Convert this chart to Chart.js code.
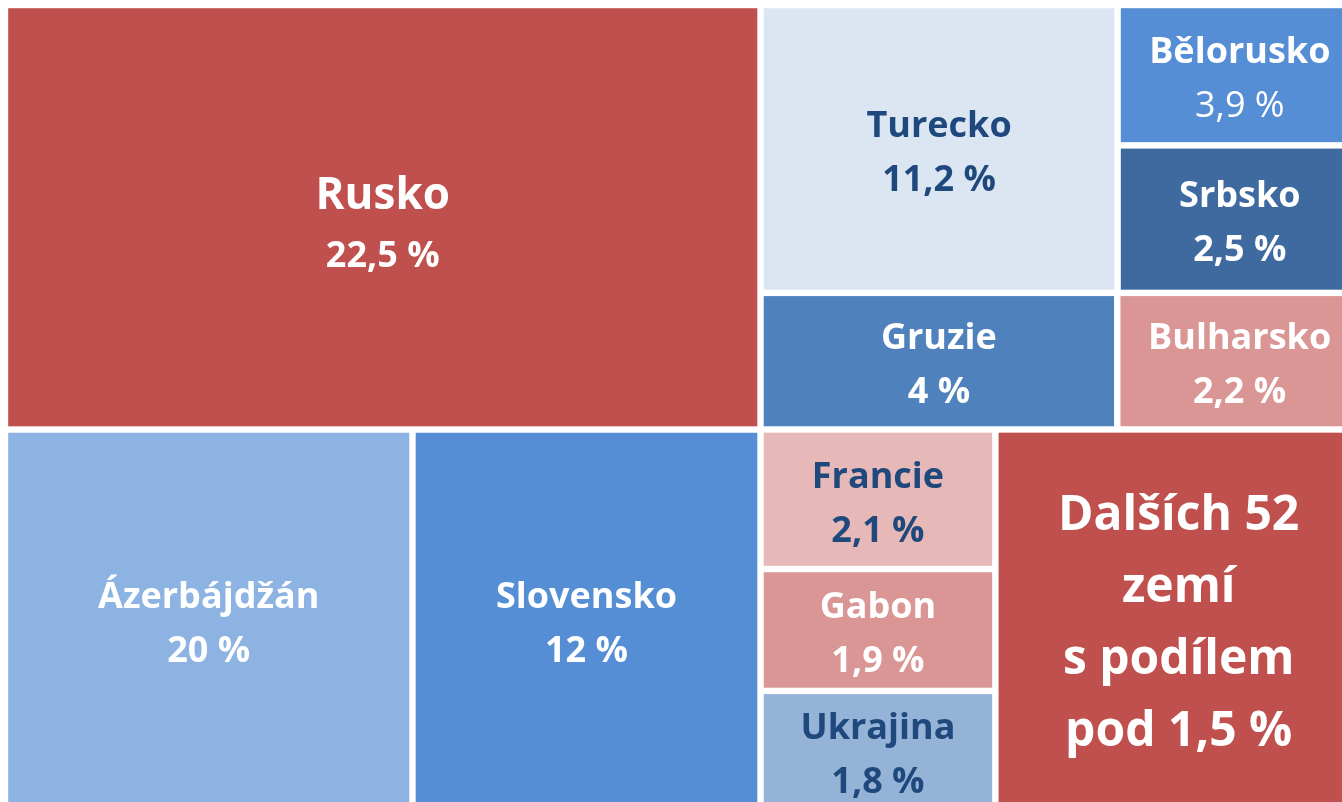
<!DOCTYPE html>
<html>
<head>
<meta charset="utf-8">
<script src="https://cdn.jsdelivr.net/npm/chart.js@4"></script>
<style>
    html, body { margin: 0; padding: 0; background: #ffffff; overflow: hidden; }
    #wrap { position: absolute; left: 0; top: 0; }
</style>
</head>
<body>
<div id="wrap"><canvas id="treemapGraph" width="1362" height="810"></canvas></div>
<script>
// countries and their share (labels), tile areas (% of the whole)
var countries = ["Rusko", "Ázerbájdžán", "Slovensko", "Turecko", "Gruzie", "Bělorusko", "Srbsko", "Bulharsko", "Francie", "Gabon", "Ukrajina", "Dalších 52 zemí"];
var shares = [22.5, 20, 12, 11.2, 4, 3.9, 2.5, 2.2, 2.1, 1.9, 1.8, null];
var tileArea = [29.36, 14.19, 12.12, 9.41, 4.46, 3.14, 3.30, 3.06, 3.00, 2.62, 2.56, 12.77];
var otherLines = ["Dalších 52", "zemí", "s podílem", "pod 1,5 %"];

// styles
var tileColors = ["#C0504D", "#8DB3E2", "#558ED5", "#DCE6F2", "#4F81BD", "#558ED5", "#3F6AA0", "#D99694", "#E6B9B8", "#D99694", "#95B3D7", "#C0504D"];
var textColors = ["#ffffff", "#ffffff", "#ffffff", "#1F497D", "#ffffff", "#ffffff", "#ffffff", "#ffffff", "#1F497D", "#ffffff", "#1F497D", "#ffffff"];

// nesting of the tiles: "h" splits the width, "v" splits the height
var tiling = ["h", [
    ["v", [0, ["h", [1, 2]]]],
    ["v", [
        ["h", [3, ["v", [5, 6]]]],
        ["h", [4, 7]],
        ["h", [["v", [8, 9, 10]], 11]],
    ]],
]];

function node_weight(node) {
    if (typeof node === "number") return tileArea[node];
    return node[1].reduce((s, n) => s + node_weight(n), 0);
}

function layout(node, x0, y0, x1, y1, out) {
    if (typeof node === "number") {
        out.push({ i: node, x0: x0, y0: y0, x1: x1, y1: y1 });
        return out;
    }
    var dir = node[0];
    var total = node_weight(node);
    var pos = dir == "h" ? x0 : y0;
    for (child of node[1]) {
        var len = (node_weight(child) / total) * (dir == "h" ? x1 - x0 : y1 - y0);
        if (dir == "h") {
            layout(child, pos, y0, pos + len, y1, out);
        } else {
            layout(child, x0, pos, x1, pos + len, out);
        }
        pos += len;
    }
    return out;
}

function label_lines(i) {
    if (shares[i] === null) return otherLines;
    return [countries[i], String(shares[i]).replace(".", ",") + " %"];
}

var treemapPlugin = {
    id: "treemapTiles",
    afterDatasetsDraw(chart) {
        var ctx = chart.ctx;
        var xs = chart.scales.x;
        var ys = chart.scales.y;
        var gap = 3.2;
        var cells = layout(tiling, 0, 0, 100, 100, []);
        ctx.save();
        for (cell of cells) {
            var px0 = xs.getPixelForValue(cell.x0) + gap;
            var px1 = xs.getPixelForValue(cell.x1) - gap;
            var py0 = ys.getPixelForValue(cell.y0) + gap;
            var py1 = ys.getPixelForValue(cell.y1) - gap;
            ctx.fillStyle = tileColors[cell.i];
            ctx.fillRect(px0, py0, px1 - px0, py1 - py0);

            var lines = label_lines(cell.i);
            var cx = (px0 + px1) / 2;
            var cy = (py0 + py1) / 2 + 5;
            var lh = 54;
            if (cell.i == 0) {
                lh = 60;
                cy += 4;
            }
            if (shares[cell.i] === null) lh = 72;
            ctx.fillStyle = textColors[cell.i];
            ctx.textAlign = "center";
            ctx.textBaseline = "middle";
            lines.forEach((txt, k) => {
                var size = 36;
                var weight = "bold";
                if (cell.i == 0 && k == 0) size = 44;
                if (shares[cell.i] === null) size = 48;
                if (countries[cell.i] == "Bělorusko" && k == 1) weight = "normal";
                ctx.font = weight + " " + size + "px 'Open Sans'";
                ctx.fillText(txt, cx, cy + (k - (lines.length - 1) / 2) * lh);
            });
        }
        ctx.restore();
    },
};

var treemapGraph = new Chart("treemapGraph", {
    type: "scatter",
    data: { datasets: [{ data: [] }] },
    options: {
        responsive: false,
        animation: false,
        layout: { padding: { left: 5, top: 5, right: 0, bottom: 0 } },
        plugins: { legend: { display: false }, tooltip: { enabled: false } },
        scales: {
            x: { type: "linear", min: 0, max: 100, display: false },
            y: { type: "linear", min: 0, max: 100, reverse: true, display: false },
        },
    },
    plugins: [treemapPlugin],
});
</script>
</body>
</html>
